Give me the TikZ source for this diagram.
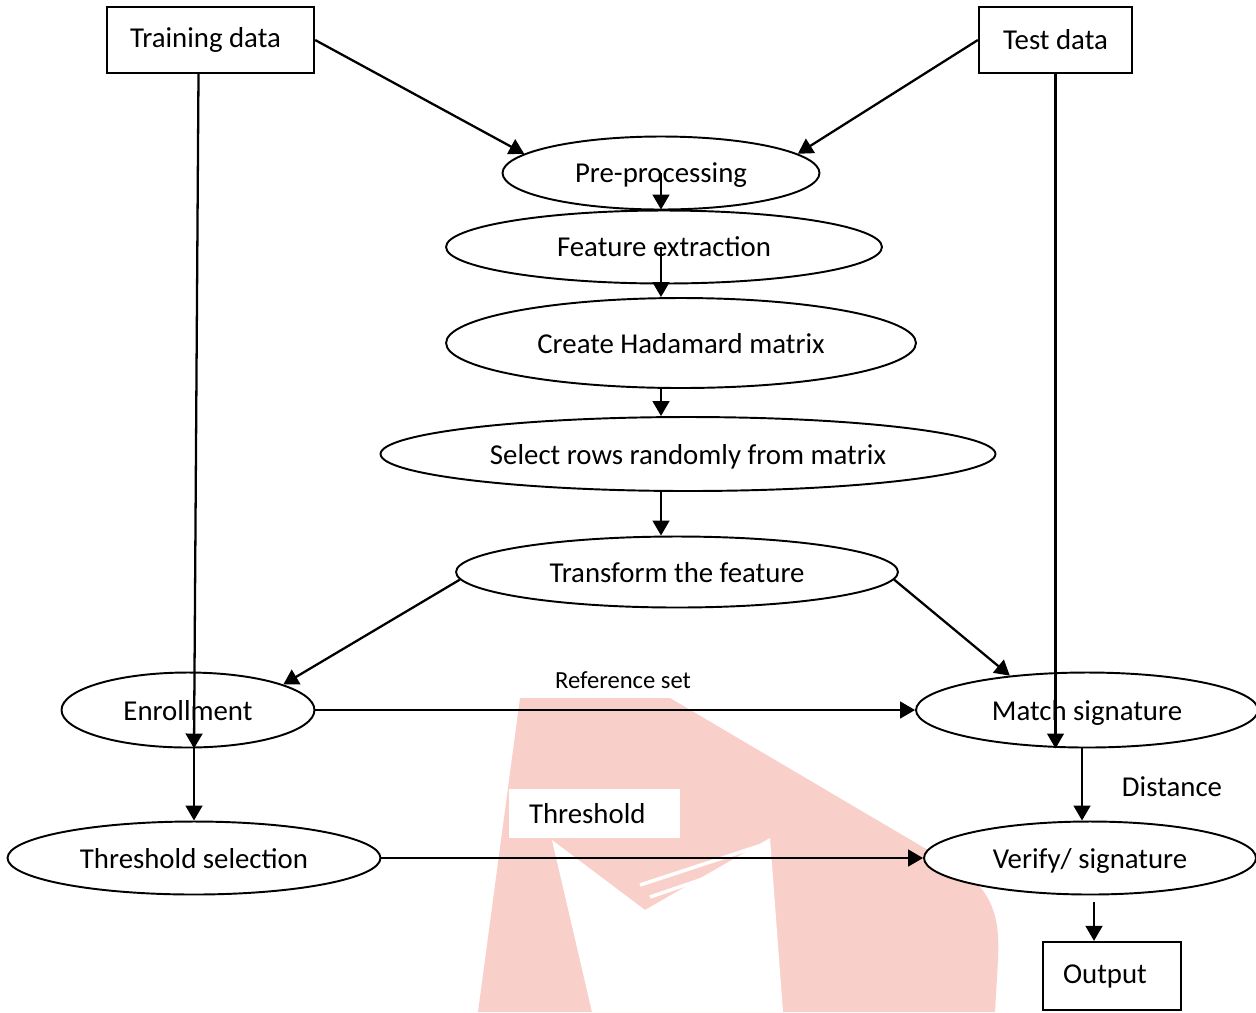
\documentclass[tikz,border=0pt]{standalone}
\usepackage{fontspec}
\setmainfont{Carlito}
\usetikzlibrary{shapes.geometric,arrows.meta,calc}
\definecolor{wmred}{RGB}{249,207,201}

\begin{document}
\begin{tikzpicture}[x=0.02cm,y=-0.02cm]
    \tikzstyle{block} = [rectangle,draw=black,line width=1.3pt,font=\fontsize{16.4}{20}\selectfont,inner sep=0pt];
    \tikzstyle{stage} = [ellipse,draw=black,fill=white,line width=1.1pt,font=\fontsize{16.4}{20}\selectfont,inner sep=0pt,text depth=0pt];
    \tikzstyle{tag} = [font=\fontsize{16.4}{20}\selectfont,inner sep=0pt];
    \tikzstyle{flow} = [-{Triangle[length=8.5pt,width=9.5pt]},line width=1.3pt];

    \useasboundingbox (0,0) rectangle (1256,1012);

    % watermark behind the chart
    \fill[wmred] (520,698) -- (670,698) -- (955,866) .. controls (1000,893) and (999,930) .. (998,960) -- (995,1012) -- (478,1012) -- cycle;
    \fill[white] (552,840) -- (645,910) -- (770,838) -- (783,1012) -- (592,1012) -- cycle;
    \draw[white,line width=2pt] (640,885) -- (768,843);
    \draw[white,line width=2pt] (650,897) -- (770,856);

    \node[block,name=training,minimum width=4.14cm,minimum height=1.32cm] at (210.5,40) {Training data\hspace*{0.2cm}};
    \node[block,name=test,minimum width=3.06cm,minimum height=1.32cm] at (1055.5,40) {Test data};

    \node[stage,name=pre,minimum width=6.34cm,minimum height=1.46cm] at (661,173) {Pre-processing};
    \node[stage,name=feature,minimum width=8.72cm,minimum height=1.46cm] at (664,247) {Feature extraction};
    \node[stage,name=hadamard,minimum width=9.4cm,minimum height=1.8cm] at (681,343) {Create Hadamard matrix};
    \node[stage,name=select,minimum width=12.3cm,minimum height=1.48cm] at (688,454) {Select rows randomly from matrix};
    \node[stage,name=transform,minimum width=8.84cm,minimum height=1.42cm] at (677,572) {Transform the feature};

    \node[stage,name=enroll,minimum width=5.06cm,minimum height=1.5cm] at (188,710) {Enrollment};
    \node[stage,name=match,minimum width=6.84cm,minimum height=1.5cm] at (1087,710) {Match signature};
    \node[stage,name=thrsel,minimum width=7.46cm,minimum height=1.46cm] at (194,858) {Threshold selection};
    \node[stage,name=verify,minimum width=6.64cm,minimum height=1.46cm] at (1090,858) {Verify/ signature};
    \node[block,name=output,minimum width=2.76cm,minimum height=1.36cm] at (1112,976) {Output\hspace*{0.28cm}};

    \node[tag,name=reflbl,font=\fontsize{14}{17}\selectfont] at (623,680) {Reference set};
    \node[tag,name=thrlbl,fill=white,inner xsep=0.4cm,text width=2.62cm,align=left,minimum height=0.98cm] at (594.5,813.5) {Threshold};
    \node[tag,name=distlbl] at (1172,787) {Distance};

    \draw[flow] (training.east) -- (pre.172);
    \draw[flow] (test.west) -- (pre.8);
    \draw[flow] (pre.center) -- (pre.center |- feature.north);
    \draw[flow] (pre.center |- feature.center) -- (pre.center |- hadamard.north);
    \draw[flow] (pre.center |- hadamard.south) -- (pre.center |- select.north);
    \draw[flow] (pre.center |- select.south) -- (pre.center |- transform.north);

    \draw[flow] (transform.182) -- (enroll.15);
    \draw[flow] (transform.-2) -- (match.156);
    \draw[flow] (enroll.east) -- (match.west);

    \draw[flow] ([xshift=-0.24cm]training.south) -- (enroll.south -| thrsel.north);
    \draw[flow] (enroll.south -| thrsel.north) -- (thrsel.north);
    \draw[flow] (test.south) -- (test.south |- match.south);
    \draw[flow] ([xshift=-0.1cm]match.south) -- ([xshift=-0.1cm]match.south |- verify.north);
    \draw[flow] (thrsel.east) -- (verify.west);
    \draw[flow,shorten <=0.14cm] ([xshift=-0.36cm]output.north |- verify.south) -- ([xshift=-0.36cm]output.north);

  \end{tikzpicture}
\end{document}
